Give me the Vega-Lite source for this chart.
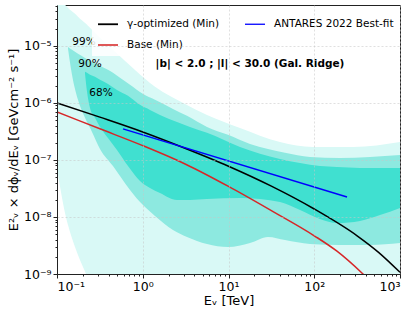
{
  "$schema": "https://vega.github.io/schema/vega-lite/v6.json",
  "width": 343,
  "height": 269,
  "autosize": {"type": "none"},
  "padding": {"left": 57, "top": 5, "right": 17, "bottom": 39},
  "background": "white",
  "config": {
    "font": "DejaVu Sans",
    "view": {"stroke": "#222222", "strokeWidth": 1},
    "axis": {
      "labelFont": "DejaVu Sans",
      "titleFont": "DejaVu Sans",
      "labelColor": "black",
      "titleColor": "black",
      "titleFontWeight": "normal",
      "domainColor": "#222222",
      "tickColor": "#222222"
    }
  },
  "datasets": {
    "band99": [
      {"E": 0.1, "up": 1.44e-4, "lo": 7.3e-8},
      {"E": 0.1113, "up": 6.15e-5, "lo": 2.75e-8},
      {"E": 0.124, "up": 5.24e-5, "lo": 1.17e-8},
      {"E": 0.1418, "up": 4.29e-5, "lo": 5.46e-9},
      {"E": 0.1622, "up": 3.64e-5, "lo": 2.98e-9},
      {"E": 0.1854, "up": 2.98e-5, "lo": 1.76e-9},
      {"E": 0.2179, "up": 2.43e-5, "lo": 1.0e-9},
      {"E": 0.2426, "up": 2.07e-5, "lo": 6.4e-10},
      {"E": 0.2774, "up": 1.69e-5, "lo": 3.5e-10},
      {"E": 0.4498, "up": 8.51e-6, "lo": 1e-11},
      {"E": 0.812, "up": 3.79e-6, "lo": 1e-11},
      {"E": 1.39, "up": 1.91e-6, "lo": 1e-11},
      {"E": 3.11, "up": 9.59e-7, "lo": 1e-11},
      {"E": 5.614, "up": 6.15e-7, "lo": 1e-11},
      {"E": 13.62, "up": 3.64e-7, "lo": 1e-11},
      {"E": 39.86, "up": 2.07e-7, "lo": 1e-11},
      {"E": 96.7, "up": 1.69e-7, "lo": 1e-11},
      {"E": 283.1, "up": 1.69e-7, "lo": 1e-11},
      {"E": 1000, "up": 2.07e-7, "lo": 1e-11}
    ],
    "band90": [
      {"E": 0.1344, "up": 9.59e-6, "lo": 8.85e-6},
      {"E": 0.1496, "up": 8.51e-6, "lo": 3.10e-6},
      {"E": 0.1757, "up": 7.25e-6, "lo": 1.13e-6},
      {"E": 0.2121, "up": 6.15e-6, "lo": 5.46e-7},
      {"E": 0.256, "up": 5.24e-6, "lo": 3.10e-7},
      {"E": 0.3173, "up": 4.46e-6, "lo": 1.56e-7},
      {"E": 0.4498, "up": 3.36e-6, "lo": 7.85e-8},
      {"E": 0.5429, "up": 2.75e-6, "lo": 5.24e-8},
      {"E": 0.7101, "up": 2.07e-6, "lo": 2.98e-8},
      {"E": 1.0, "up": 1.44e-6, "lo": 1.63e-8},
      {"E": 1.39, "up": 1.13e-6, "lo": 1.04e-8},
      {"E": 2.253, "up": 7.85e-7, "lo": 5.92e-9},
      {"E": 3.281, "up": 5.92e-7, "lo": 4.46e-9},
      {"E": 5.614, "up": 3.79e-7, "lo": 3.36e-9},
      {"E": 9.867, "up": 2.75e-7, "lo": 2.98e-9},
      {"E": 17.81, "up": 1.91e-7, "lo": 3.50e-9},
      {"E": 28.88, "up": 1.56e-7, "lo": 4.46e-9},
      {"E": 45.6, "up": 1.33e-7, "lo": 3.94e-9},
      {"E": 89.2, "up": 1.13e-7, "lo": 3.36e-9},
      {"E": 199.7, "up": 1.08e-7, "lo": 3.23e-9},
      {"E": 446.8, "up": 1.13e-7, "lo": 3.23e-9},
      {"E": 1000, "up": 1.22e-7, "lo": 3.50e-9}
    ],
    "band68": [
      {"E": 0.2121, "up": 3.50e-6, "lo": 3.23e-6},
      {"E": 0.2239, "up": 3.36e-6, "lo": 1.56e-6},
      {"E": 0.2426, "up": 3.10e-6, "lo": 8.16e-7},
      {"E": 0.2774, "up": 2.86e-6, "lo": 5.46e-7},
      {"E": 0.3173, "up": 2.54e-6, "lo": 3.79e-7},
      {"E": 0.3933, "up": 2.15e-6, "lo": 2.43e-7},
      {"E": 0.5008, "up": 1.69e-6, "lo": 1.50e-7},
      {"E": 0.673, "up": 1.33e-6, "lo": 7.85e-8},
      {"E": 0.9288, "up": 9.23e-7, "lo": 4.29e-8},
      {"E": 1.215, "up": 7.53e-7, "lo": 3.23e-8},
      {"E": 1.589, "up": 6.15e-7, "lo": 2.64e-8},
      {"E": 2.508, "up": 4.64e-7, "lo": 1.99e-8},
      {"E": 3.556, "up": 3.79e-7, "lo": 1.99e-8},
      {"E": 5.614, "up": 2.98e-7, "lo": 2.07e-8},
      {"E": 13.62, "up": 1.69e-7, "lo": 2.15e-8},
      {"E": 39.86, "up": 1.04e-7, "lo": 1.83e-8},
      {"E": 68.22, "up": 8.85e-8, "lo": 1.33e-8},
      {"E": 116.7, "up": 7.85e-8, "lo": 9.23e-9},
      {"E": 184.2, "up": 7.53e-8, "lo": 7.85e-9},
      {"E": 341.6, "up": 7.25e-8, "lo": 8.51e-9},
      {"E": 584.6, "up": 7.25e-8, "lo": 1.08e-8},
      {"E": 1000, "up": 7.25e-8, "lo": 1.44e-8}
    ],
    "lines": [
      {"series": "γ-optimized (Min)", "E": 0.1, "F": 1.0e-6},
      {"series": "γ-optimized (Min)", "E": 0.3162, "F": 5.62e-7},
      {"series": "γ-optimized (Min)", "E": 1, "F": 3.09e-7},
      {"series": "γ-optimized (Min)", "E": 3.162, "F": 1.585e-7},
      {"series": "γ-optimized (Min)", "E": 10, "F": 7.76e-8},
      {"series": "γ-optimized (Min)", "E": 31.62, "F": 3.47e-8},
      {"series": "γ-optimized (Min)", "E": 100, "F": 1.38e-8},
      {"series": "γ-optimized (Min)", "E": 316.2, "F": 4.68e-9},
      {"series": "γ-optimized (Min)", "E": 562.3, "F": 2.4e-9},
      {"series": "γ-optimized (Min)", "E": 1000, "F": 1.07e-9},
      {"series": "Base (Min)", "E": 0.1, "F": 6.92e-7},
      {"series": "Base (Min)", "E": 0.3162, "F": 3.51e-7},
      {"series": "Base (Min)", "E": 1, "F": 1.78e-7},
      {"series": "Base (Min)", "E": 3.162, "F": 8.41e-8},
      {"series": "Base (Min)", "E": 10, "F": 3.43e-8},
      {"series": "Base (Min)", "E": 31.62, "F": 1.29e-8},
      {"series": "Base (Min)", "E": 100, "F": 4.68e-9},
      {"series": "Base (Min)", "E": 184.1, "F": 2.51e-9},
      {"series": "Base (Min)", "E": 370.3, "F": 1.0e-9},
      {"series": "Base (Min)", "E": 588.8, "F": 5.0e-10},
      {"series": "ANTARES 2022 Best-fit", "E": 0.5885, "F": 3.50e-7},
      {"series": "ANTARES 2022 Best-fit", "E": 241, "F": 2.24e-8}
    ],
    "labels": [
      {"E": 0.2065, "F": 1.175e-5, "t": "99%"},
      {"E": 0.2426, "F": 4.83e-6, "t": "90%"},
      {"E": 0.326, "F": 1.5e-6, "t": "68%"}
    ],
    "ridge": [
      {"E": 17.8, "F": 4.83e-6, "t": "|b| < 2.0 ; |l| < 30.0  (Gal. Ridge)"}
    ]
  },
  "layer": [
    {
      "data": {"name": "band99"},
      "mark": {"type": "area", "clip": true, "color": "#d9f9f6", "opacity": 1, "interpolate": "monotone"},
      "encoding": {
        "x": {
          "field": "E", "type": "quantitative",
          "scale": {"type": "log", "domain": [0.1, 1000], "nice": false},
          "axis": {
            "orient": "bottom", "zindex": 1,
            "values": [0.1, 1, 10, 100, 1000],
            "labelExpr": "['10⁻¹','10⁰','10¹','10²','10³'][round(log(datum.value)/LN10)+1]",
            "labelFontSize": 12.5, "labelPadding": 2, "tickSize": 4,
            "grid": true, "gridColor": "#c8c8c8", "gridOpacity": 0.7, "gridDash": [2, 2], "gridWidth": 0.8,
            "title": "Eᵥ [TeV]", "titleFontSize": 13, "titlePadding": 2
          }
        },
        "y": {
          "field": "up", "type": "quantitative",
          "scale": {"type": "log", "domain": [1e-9, 5.2e-5], "nice": false},
          "axis": {
            "orient": "left", "zindex": 1,
            "values": [1e-9, 1e-8, 1e-7, 1e-6, 1e-5],
            "labelExpr": "['10⁻⁹','10⁻⁸','10⁻⁷','10⁻⁶','10⁻⁵'][round(log(datum.value)/LN10)+9]",
            "labelFontSize": 12.5, "labelPadding": 2, "tickSize": 4,
            "grid": true, "gridColor": "#c8c8c8", "gridOpacity": 0.7, "gridDash": [2, 2], "gridWidth": 0.8,
            "title": "E²ᵥ × dϕᵥ/dEᵥ [GeVcm⁻² s⁻¹]", "titleFontSize": 13, "titlePadding": 3
          }
        },
        "y2": {"field": "lo"}
      }
    },
    {
      "data": {"name": "band90"},
      "mark": {"type": "area", "clip": true, "color": "#8de9e0", "interpolate": "monotone"},
      "encoding": {
        "x": {"field": "E", "type": "quantitative", "scale": {"type": "log", "domain": [0.1, 1000], "nice": false}, "axis": null},
        "y": {"field": "up", "type": "quantitative", "scale": {"type": "log", "domain": [1e-9, 5.2e-5], "nice": false}, "axis": null},
        "y2": {"field": "lo"}
      }
    },
    {
      "data": {"name": "band68"},
      "mark": {"type": "area", "clip": true, "color": "#40e0d0", "interpolate": "monotone"},
      "encoding": {
        "x": {"field": "E", "type": "quantitative", "scale": {"type": "log", "domain": [0.1, 1000], "nice": false}, "axis": null},
        "y": {"field": "up", "type": "quantitative", "scale": {"type": "log", "domain": [1e-9, 5.2e-5], "nice": false}, "axis": null},
        "y2": {"field": "lo"}
      }
    },
    {
      "data": {"name": "lines"},
      "mark": {"type": "line", "clip": true, "strokeWidth": 1.5, "interpolate": "monotone"},
      "encoding": {
        "x": {"field": "E", "type": "quantitative", "scale": {"type": "log", "domain": [0.1, 1000], "nice": false}, "axis": null},
        "y": {"field": "F", "type": "quantitative", "scale": {"type": "log", "domain": [1e-9, 5.2e-5], "nice": false}, "axis": null},
        "color": {
          "field": "series", "type": "nominal",
          "scale": {"domain": ["γ-optimized (Min)", "Base (Min)", "ANTARES 2022 Best-fit"], "range": ["#000000", "#d62728", "#0000ff"]},
          "legend": {
            "orient": "none", "legendX": 35, "legendY": 3, "columns": 2, "title": null,
            "symbolType": "stroke", "symbolSize": 400, "symbolStrokeWidth": 1.6,
            "labelFontSize": 10.5, "labelFont": "DejaVu Sans", "labelColor": "black", "labelOffset": 8,
            "columnPadding": 22, "rowPadding": 4, "padding": 5,
            "fillColor": "rgba(255,255,255,0.85)"
          }
        },
        "strokeWidth": {
          "field": "series", "type": "nominal",
          "scale": {"domain": ["γ-optimized (Min)", "Base (Min)", "ANTARES 2022 Best-fit"], "range": [1.8, 1.3, 1.2]},
          "legend": null
        }
      }
    },
    {
      "data": {"name": "labels"},
      "mark": {"type": "text", "fontSize": 10.5, "color": "black", "align": "center", "baseline": "middle"},
      "encoding": {
        "x": {"field": "E", "type": "quantitative", "scale": {"type": "log", "domain": [0.1, 1000], "nice": false}, "axis": null},
        "y": {"field": "F", "type": "quantitative", "scale": {"type": "log", "domain": [1e-9, 5.2e-5], "nice": false}, "axis": null},
        "text": {"field": "t"}
      }
    },
    {
      "data": {"name": "ridge"},
      "mark": {"type": "text", "fontSize": 10.5, "fontWeight": "bold", "color": "black", "align": "center", "baseline": "middle"},
      "encoding": {
        "x": {"field": "E", "type": "quantitative", "scale": {"type": "log", "domain": [0.1, 1000], "nice": false}, "axis": null},
        "y": {"field": "F", "type": "quantitative", "scale": {"type": "log", "domain": [1e-9, 5.2e-5], "nice": false}, "axis": null},
        "text": {"field": "t"}
      }
    },
    {
      "data": {"name": "labels"},
      "mark": {"type": "point", "opacity": 0},
      "encoding": {
        "x": {
          "field": "E", "type": "quantitative",
          "scale": {"type": "log", "domain": [0.1, 1000], "nice": false},
          "axis": {
            "orient": "bottom", "zindex": 1, "title": null, "labels": false, "grid": false, "domain": false,
            "tickSize": 2, "values": [0.2, 0.3, 0.4, 0.5, 0.6, 0.7, 0.8, 0.9, 2, 3, 4, 5, 6, 7, 8, 9, 20, 30, 40, 50, 60, 70, 80, 90, 200, 300, 400, 500, 600, 700, 800, 900]
          }
        },
        "y": {
          "field": "F", "type": "quantitative",
          "scale": {"type": "log", "domain": [1e-9, 5.2e-5], "nice": false},
          "axis": {
            "orient": "left", "zindex": 1, "title": null, "labels": false, "grid": false, "domain": false,
            "tickSize": 2, "values": [2e-9, 3e-9, 4e-9, 5e-9, 6e-9, 7e-9, 8e-9, 9e-9, 2e-8, 3e-8, 4e-8, 5e-8, 6e-8, 7e-8, 8e-8, 9e-8, 2e-7, 3e-7, 4e-7, 5e-7, 6e-7, 7e-7, 8e-7, 9e-7, 2e-6, 3e-6, 4e-6, 5e-6, 6e-6, 7e-6, 8e-6, 9e-6, 2e-5, 3e-5, 4e-5, 5e-5]
          }
        }
      }
    }
  ],
  "resolve": {"axis": {"x": "independent", "y": "independent"}}
}
